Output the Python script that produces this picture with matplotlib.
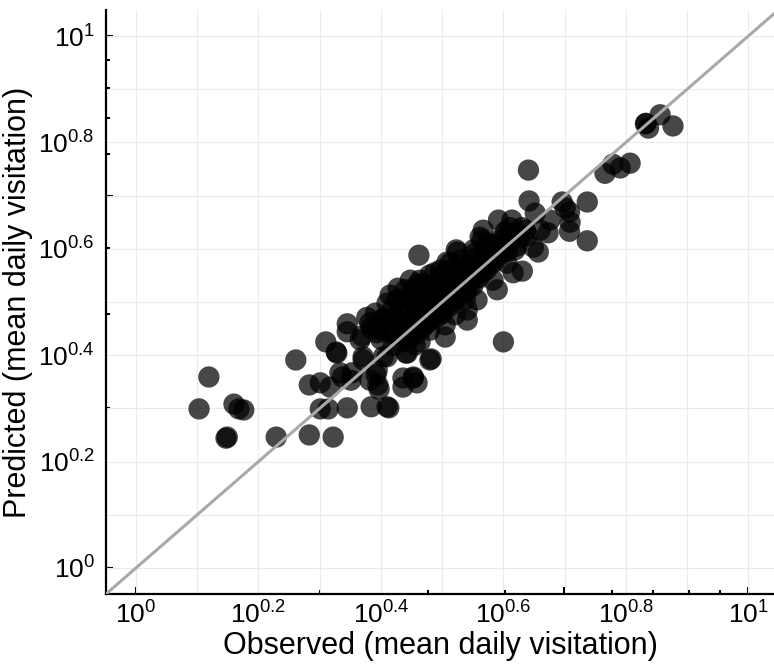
import numpy as np
import matplotlib
matplotlib.use('Agg')
import matplotlib.pyplot as plt
from matplotlib.ticker import FixedLocator, NullFormatter

plt.rcParams['font.family'] = ['Liberation Sans', 'DejaVu Sans']
plt.rcParams['mathtext.fontset'] = 'custom'
plt.rcParams['mathtext.rm'] = 'Liberation Sans'
plt.rcParams['mathtext.it'] = 'Liberation Sans:italic'

# ---------------- data (log10 of mean daily visitation)
obs_log10 = [
    0.103, 0.119, 0.149, 0.147, 0.160, 0.168, 0.176, 0.229, 0.261, 0.283,
    0.301, 0.317, 0.337, 0.351, 0.283, 0.322, 0.301, 0.314, 0.345, 0.384,
    0.410, 0.413, 0.310, 0.328, 0.345, 0.345, 0.369, 0.371, 0.391, 0.384,
    0.394, 0.382, 0.392, 0.395, 0.397, 0.404, 0.436, 0.453, 0.459, 0.482,
    0.441, 0.462, 0.480, 0.600, 0.327, 0.366, 0.371, 0.382, 0.399, 0.410,
    0.428, 0.426, 0.459, 0.484, 0.443, 0.464, 0.505, 0.525, 0.513, 0.541,
    0.541, 0.557, 0.583, 0.590, 0.562, 0.574, 0.606, 0.616, 0.394, 0.353,
    0.333, 0.453, 0.436,
    0.415, 0.431, 0.448, 0.464, 0.440, 0.472, 0.480, 0.497, 0.505, 0.521,
    0.529, 0.513, 0.489, 0.456, 0.431, 0.415, 0.399, 0.423, 0.448, 0.472,
    0.497, 0.521, 0.538, 0.546, 0.562, 0.578, 0.554, 0.570, 0.587, 0.595,
    0.603, 0.611, 0.627, 0.636, 0.619, 0.546, 0.529, 0.513, 0.497, 0.480,
    0.464, 0.448, 0.538, 0.521, 0.505, 0.480, 0.456,
    0.452, 0.470, 0.486, 0.500, 0.515, 0.530, 0.545, 0.560, 0.575, 0.490,
    0.475, 0.460, 0.505, 0.520, 0.535, 0.440, 0.425, 0.510, 0.525, 0.550,
    0.565, 0.585, 0.595, 0.480, 0.495, 0.455,
    0.412, 0.420, 0.428, 0.433, 0.438, 0.445, 0.450, 0.458, 0.462, 0.468,
    0.475, 0.478, 0.485, 0.490, 0.494, 0.500, 0.503, 0.508, 0.512, 0.517,
    0.523, 0.527, 0.533, 0.540, 0.543, 0.550, 0.556, 0.560, 0.568, 0.572,
    0.580, 0.588, 0.598, 0.607, 0.615, 0.622, 0.400, 0.405, 0.395, 0.420,
    0.435, 0.452, 0.468, 0.488, 0.377, 0.410, 0.630, 0.620, 0.640, 0.610,
    0.641, 0.642, 0.652, 0.696, 0.701, 0.708, 0.709, 0.708, 0.737, 0.737,
    0.676, 0.673, 0.657, 0.660, 0.631, 0.592, 0.614, 0.567, 0.565, 0.523,
    0.554, 0.766, 0.779, 0.791, 0.807, 0.833, 0.837, 0.832, 0.856, 0.877,
    0.603, 0.595, 0.508, 0.551, 0.649,
]
pred_log10 = [
    0.299, 0.359, 0.246, 0.244, 0.308, 0.299, 0.297, 0.246, 0.391, 0.344,
    0.348, 0.340, 0.359, 0.353, 0.250, 0.246, 0.299, 0.299, 0.301, 0.303,
    0.303, 0.301, 0.425, 0.404, 0.459, 0.444, 0.436, 0.391, 0.479, 0.451,
    0.442, 0.353, 0.363, 0.344, 0.336, 0.397, 0.340, 0.357, 0.348, 0.393,
    0.404, 0.588, 0.391, 0.425, 0.406, 0.429, 0.397, 0.461, 0.447, 0.397,
    0.526, 0.504, 0.532, 0.532, 0.404, 0.425, 0.434, 0.594, 0.573, 0.485,
    0.466, 0.504, 0.541, 0.523, 0.622, 0.611, 0.573, 0.555, 0.372, 0.367,
    0.367, 0.359, 0.357,
    0.513, 0.485, 0.504, 0.494, 0.523, 0.523, 0.504, 0.513, 0.541, 0.532,
    0.551, 0.504, 0.476, 0.466, 0.457, 0.466, 0.466, 0.438, 0.438, 0.457,
    0.485, 0.504, 0.523, 0.541, 0.560, 0.570, 0.583, 0.598, 0.607, 0.588,
    0.607, 0.617, 0.620, 0.635, 0.598, 0.570, 0.579, 0.560, 0.560, 0.551,
    0.541, 0.541, 0.504, 0.476, 0.457, 0.447, 0.419,
    0.470, 0.480, 0.492, 0.500, 0.520, 0.530, 0.555, 0.575, 0.590, 0.530,
    0.505, 0.490, 0.525, 0.545, 0.560, 0.480, 0.470, 0.490, 0.510, 0.540,
    0.555, 0.575, 0.600, 0.520, 0.545, 0.510,
    0.445, 0.418, 0.452, 0.425, 0.462, 0.430, 0.455, 0.440, 0.478, 0.452,
    0.490, 0.462, 0.505, 0.470, 0.500, 0.478, 0.520, 0.495, 0.530, 0.505,
    0.540, 0.515, 0.548, 0.520, 0.565, 0.530, 0.568, 0.545, 0.585, 0.560,
    0.595, 0.585, 0.615, 0.595, 0.625, 0.605, 0.430, 0.470, 0.455, 0.490,
    0.505, 0.522, 0.535, 0.555, 0.471, 0.498, 0.640, 0.630, 0.625, 0.640,
    0.748, 0.690, 0.667, 0.688, 0.677, 0.669, 0.650, 0.633, 0.688, 0.615,
    0.654, 0.630, 0.594, 0.635, 0.558, 0.654, 0.654, 0.635, 0.617, 0.598,
    0.592, 0.742, 0.759, 0.752, 0.761, 0.836, 0.827, 0.835, 0.852, 0.831,
    0.632, 0.617, 0.575, 0.598, 0.603,
]

label_exps = [0, 0.2, 0.4, 0.6, 0.8, 1.0]
tick_labels = ['10^{0}', '10^{0.2}', '10^{0.4}', '10^{0.6}', '10^{0.8}', '10^{1}']
grid_minor_exps = [0.1, 0.3, 0.5, 0.7, 0.9]
mark_major = [1, 5, 10]
mark_minor = [2, 3, 4, 6, 7, 8, 9]

observed = 10 ** np.array(obs_log10)
predicted = 10 ** np.array(pred_log10)

# ---------------- figure
fig = plt.figure(figsize=(7.74, 6.64), dpi=100)
ax = fig.add_axes([106 / 774, 70 / 664, 668 / 774, 584 / 664])

ax.set_xscale('log')
ax.set_yscale('log')
ax.set_xlim(10 ** -0.049, 10 ** 1.042)
ax.set_ylim(10 ** -0.049, 10 ** 1.049)

ax.scatter(observed, predicted, s=235, c='black', alpha=0.72,
           edgecolors='none', zorder=3)
one_to_one = [10 ** -0.1, 10 ** 1.1]
ax.plot(one_to_one, one_to_one, color='#a9a9a9', lw=2.2, zorder=4)

# labels + grid on the main axis (no tick marks)
for axis in (ax.xaxis, ax.yaxis):
    axis.set_major_locator(FixedLocator(10 ** np.array(label_exps)))
    axis.set_minor_locator(FixedLocator(10 ** np.array(grid_minor_exps)))
    axis.set_minor_formatter(NullFormatter())
ax.set_xticklabels(['$\\mathregular{%s}$' % t for t in tick_labels])
ax.set_yticklabels(['$\\mathregular{%s}$' % t for t in tick_labels])
ax.tick_params(which='both', length=0, labelsize=19)
ax.tick_params(axis='x', pad=5)
ax.tick_params(axis='y', pad=8)
ax.grid(which='both', color='#ebebeb', lw=0.8)
ax.set_axisbelow(True)

for s in ['top', 'right']:
    ax.spines[s].set_visible(False)
for s in ['left', 'bottom']:
    ax.spines[s].set_linewidth(1.6)

# tick marks at 1..10 (like the original log axis)
for loc, size in ((mark_major, 5), (mark_minor, 2.8)):
    sx = ax.secondary_xaxis('bottom')
    sx.set_xticks(loc)
    sx.tick_params(which='major', direction='in', length=size, width=1.5,
                   labelbottom=False)
    sx.tick_params(which='minor', length=0, labelbottom=False)
    sx.spines['bottom'].set_visible(False)
    sy = ax.secondary_yaxis('left')
    sy.set_yticks(loc)
    sy.tick_params(which='major', direction='in', length=size, width=1.5,
                   labelleft=False)
    sy.tick_params(which='minor', length=0, labelleft=False)
    sy.spines['left'].set_visible(False)

ax.set_xlabel('Observed (mean daily visitation)', fontsize=22, labelpad=2)
ax.set_ylabel('Predicted (mean daily visitation)', fontsize=22, labelpad=4)

fig.savefig('out.png', dpi=100)
plt.close(fig)
